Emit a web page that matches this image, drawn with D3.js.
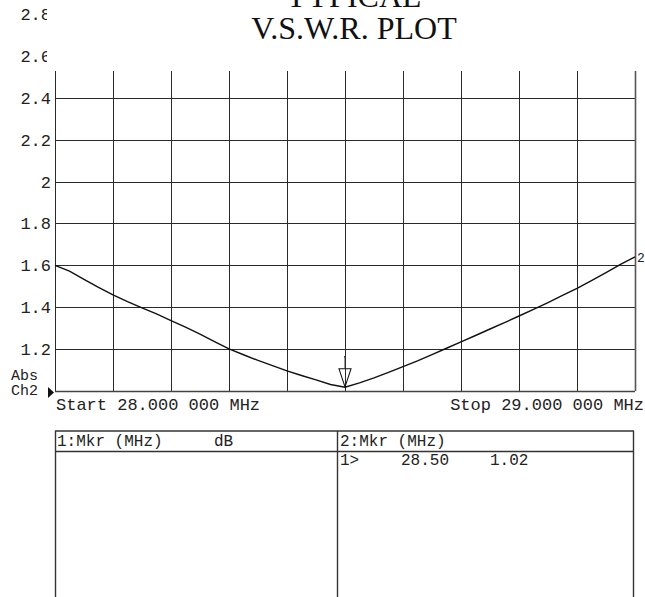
<!DOCTYPE html>
<html>
<head>
<meta charset="utf-8">
<script src="https://cdn.jsdelivr.net/npm/d3@7/dist/d3.min.js"></script>
<style>
  html, body { margin: 0; padding: 0; background: #fff; }
  svg { display: block; }
  .mono { font-family: "Liberation Mono", "DejaVu Sans Mono", monospace; fill: #222; }
</style>
</head>
<body>
<svg id="chart" width="645" height="597"></svg>
<script>
// ---- Data ----
const titleLines = ["TYPICAL", "V.S.W.R. PLOT"];
const freqs = [28.000, 28.025, 28.050, 28.075, 28.100, 28.125, 28.150, 28.175, 28.200, 28.225,
               28.250, 28.275, 28.300, 28.325, 28.350, 28.375, 28.400, 28.425, 28.450, 28.475,
               28.500, 28.525, 28.550, 28.575, 28.600, 28.625, 28.650, 28.675, 28.700, 28.725,
               28.750, 28.775, 28.800, 28.825, 28.850, 28.875, 28.900, 28.925, 28.950, 28.975, 29.000];
const vswr  = [1.600, 1.572, 1.533, 1.495, 1.459, 1.427, 1.397, 1.368, 1.336, 1.305,
               1.272, 1.236, 1.201, 1.173, 1.146, 1.121, 1.096, 1.074, 1.053, 1.031,
               1.018, 1.039, 1.063, 1.089, 1.116, 1.144, 1.174, 1.204, 1.235, 1.265,
               1.296, 1.326, 1.358, 1.390, 1.422, 1.456, 1.490, 1.527, 1.565, 1.604, 1.640];
const yTicks = [1.2, 1.4, 1.6, 1.8, 2, 2.2, 2.4, 2.6, 2.8];
const yTickLabels = ["1.2", "1.4", "1.6", "1.8", "2", "2.2", "2.4", "2.6", "2.8"];
const xGrid = [28.0, 28.1, 28.2, 28.3, 28.4, 28.5, 28.6, 28.7, 28.8, 28.9, 29.0];
const markerFreqs = [28.50];
const markerVals = [1.02];
const startLabel = "Start 28.000 000 MHz";
const stopLabel = "Stop 29.000 000 MHz";
const tableHeaders = ["1:Mkr (MHz)", "dB", "2:Mkr (MHz)"];
const tableRow = ["1>", "28.50", "1.02"];

// ---- Layout ----
const svg = d3.select("#chart");
const x = d3.scaleLinear().domain([28, 29]).range([55, 635]);
const y = d3.scaleLinear().domain([1, 2.8]).range([391, 13.9]);
const yTop = y(2.6);

// gridlines
const grid = svg.append("g").attr("stroke", "#2a2a2a").attr("stroke-width", 1).attr("shape-rendering", "crispEdges");
grid.selectAll("line.h").data(yTicks.filter(d => d <= 2.6)).join("line")
  .attr("x1", x(28)).attr("x2", x(29))
  .attr("y1", d => Math.round(y(d)) + 0.5).attr("y2", d => Math.round(y(d)) + 0.5);
grid.selectAll("line.v").data(xGrid).join("line")
  .attr("x1", d => Math.round(x(d)) + 0.5).attr("x2", d => Math.round(x(d)) + 0.5)
  .attr("y1", yTop).attr("y2", y(1));
// frame bottom & right
svg.append("line").attr("x1", x(28)).attr("x2", x(29)).attr("y1", Math.round(y(1)) + 0.5).attr("y2", Math.round(y(1)) + 0.5)
  .attr("stroke", "#444").attr("stroke-width", 1.6);
svg.append("line").attr("x1", Math.round(x(29)) + 0.5).attr("x2", Math.round(x(29)) + 0.5).attr("y1", yTop).attr("y2", y(1))
  .attr("stroke", "#555").attr("stroke-width", 1.6);

// trace
const line = d3.line().x((d, i) => x(freqs[i])).y(d => y(d));
svg.append("path").datum(vswr).attr("d", line)
  .attr("fill", "none").attr("stroke", "#111").attr("stroke-width", 1.4);

// marker
markerFreqs.forEach((f, i) => {
  const mx = x(f), my = y(markerVals[i]);
  svg.append("path")
    .attr("d", `M${mx - 6},${my - 18} L${mx + 6},${my - 18} L${mx},${my} Z`)
    .attr("fill", "none").attr("stroke", "#111").attr("stroke-width", 1.1);
  svg.append("line").attr("x1", mx).attr("x2", mx).attr("y1", my - 30).attr("y2", my - 18)
    .attr("stroke", "#333").attr("stroke-width", 1);
  svg.append("circle").attr("cx", mx).attr("cy", my - 30).attr("r", 1).attr("fill", "#333");
});

// trace end label "2"
svg.append("text").attr("class", "mono").attr("x", x(29) + 2).attr("y", y(vswr[vswr.length - 1]) + 5)
  .attr("font-size", 13).text("2");

// y tick labels (clipped at top by title area)
svg.append("clipPath").attr("id", "lblclip").append("rect").attr("x", 0).attr("y", 0).attr("width", 47).attr("height", 80);
svg.selectAll("text.yl").data(yTicks).join("text")
  .attr("class", "mono")
  .attr("x", 51).attr("y", d => y(d) + 6)
  .attr("text-anchor", "end").attr("font-size", 17)
  .attr("clip-path", d => d > 2.5 ? "url(#lblclip)" : null)
  .text((d, i) => yTickLabels[i]);

// white title area covering top of grid
svg.append("rect").attr("x", 47).attr("y", 0).attr("width", 598).attr("height", 71).attr("fill", "#fff");

// title
svg.selectAll("text.title").data(titleLines).join("text")
  .attr("x", 354).attr("y", (d, i) => 7 + i * 31.5)
  .attr("text-anchor", "middle")
  .attr("font-family", "'Liberation Serif', 'Times New Roman', serif")
  .attr("font-size", 32).attr("fill", "#111")
  .text(d => d);

// Abs / Ch2 and reference arrow
svg.append("text").attr("class", "mono").attr("x", 11).attr("y", 380).attr("font-size", 15).text("Abs");
svg.append("text").attr("class", "mono").attr("x", 11).attr("y", 395).attr("font-size", 15).text("Ch2");
svg.append("path").attr("d", `M48,387 L54,392.5 L48,398 Z`).attr("fill", "#111");

// start/stop
svg.append("text").attr("class", "mono").attr("x", 56).attr("y", 410).attr("font-size", 17).text(startLabel);
svg.append("text").attr("class", "mono").attr("x", 644).attr("y", 410).attr("text-anchor", "end").attr("font-size", 17).text(stopLabel);

// table
const tb = svg.append("g").attr("stroke", "#333").attr("stroke-width", 1.4).attr("fill", "none");
tb.append("line").attr("x1", 55).attr("x2", 634).attr("y1", 431).attr("y2", 431);
tb.append("line").attr("x1", 55).attr("x2", 634).attr("y1", 451.5).attr("y2", 451.5);
tb.append("line").attr("x1", 55.5).attr("x2", 55.5).attr("y1", 431).attr("y2", 597);
tb.append("line").attr("x1", 337.5).attr("x2", 337.5).attr("y1", 431).attr("y2", 597);
tb.append("line").attr("x1", 633.5).attr("x2", 633.5).attr("y1", 431).attr("y2", 597);

const hx = [57, 214, 340];
svg.selectAll("text.th").data(tableHeaders).join("text")
  .attr("class", "mono").attr("x", (d, i) => hx[i]).attr("y", 446).attr("font-size", 16).text(d => d);
const rx = [340, 401, 490];
svg.selectAll("text.tr").data(tableRow).join("text")
  .attr("class", "mono").attr("x", (d, i) => rx[i]).attr("y", 465).attr("font-size", 16).text(d => d);
</script>
</body>
</html>
